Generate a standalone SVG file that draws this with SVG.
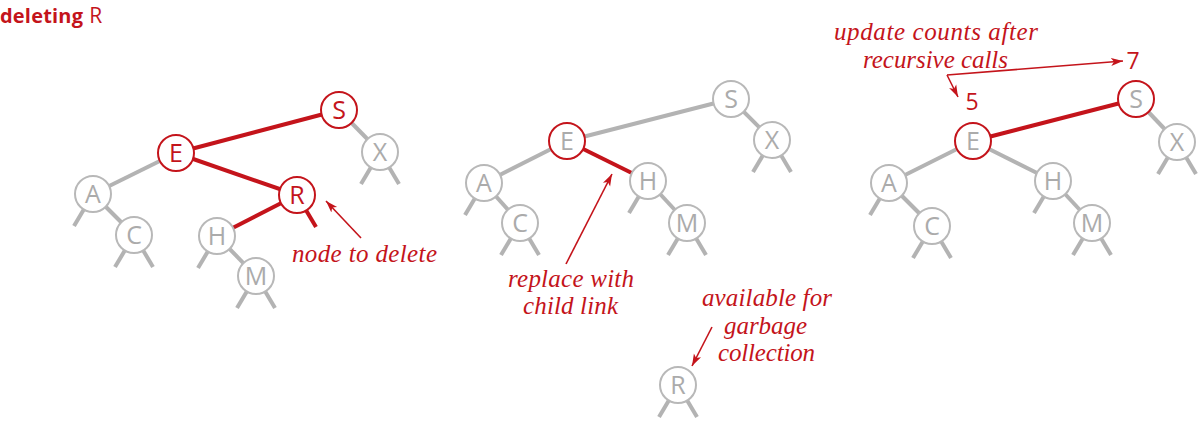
<svg xmlns="http://www.w3.org/2000/svg" width="1200" height="423" viewBox="0 0 1200 423">
<style>
.e{stroke:#b3b3b3;stroke-width:4;fill:none}
.er{stroke:#c4141b;stroke-width:4;fill:none}
.n circle{fill:#fff;stroke:#b8b8b8;stroke-width:2}
.n text{font-family:"Open Sans","Liberation Sans",sans-serif;font-size:25px;fill:#ababab;text-anchor:middle}
.n.r circle{stroke:#c4141b}
.n.rt text{fill:#c4141b}
.lab{font-family:"Liberation Serif",serif;font-style:italic;font-size:25px;fill:#c4141b}
.num{font-family:"Open Sans","Liberation Sans",sans-serif;font-size:23px;fill:#c4141b;text-anchor:middle}
.ar{stroke:#c4141b;stroke-width:1.6;fill:none}
</style>
<defs>
<marker id="ah" markerUnits="userSpaceOnUse" markerWidth="14" markerHeight="10" refX="12" refY="5" orient="auto">
<path d="M0,1 L12,5 L0,9 L3,5 Z" fill="#c4141b"/>
</marker>
</defs>

<text x="0" y="23" font-family="'Open Sans','Liberation Sans',sans-serif" font-size="20" fill="#c4141b"><tspan font-weight="bold" textLength="83">deleting</tspan><tspan dx="6" font-size="21">R</tspan></text>

<g id="connectors">
<!-- tree 1 -->
<line class="er" x1="176" y1="153" x2="339" y2="110"/>
<line class="er" x1="176" y1="153" x2="297" y2="195"/>
<line class="er" x1="297" y1="195" x2="217" y2="236"/>
<line class="er" x1="297" y1="195" x2="316" y2="227"/>
<line class="e" x1="339" y1="110" x2="380" y2="152"/>
<line class="e" x1="176" y1="153" x2="93" y2="194"/>
<line class="e" x1="93" y1="194" x2="134" y2="235"/>
<line class="e" x1="217" y1="236" x2="256" y2="276"/>
<line class="e" x1="93" y1="194" x2="74" y2="226"/>
<line class="e" x1="134" y1="235" x2="115" y2="267"/>
<line class="e" x1="134" y1="235" x2="153" y2="267"/>
<line class="e" x1="217" y1="236" x2="198" y2="268"/>
<line class="e" x1="256" y1="276" x2="237" y2="308"/>
<line class="e" x1="256" y1="276" x2="275" y2="308"/>
<line class="e" x1="380" y1="152" x2="361" y2="184"/>
<line class="e" x1="380" y1="152" x2="399" y2="184"/>
<!-- tree 2 -->
<line class="e" x1="567" y1="141" x2="731" y2="99"/>
<line class="e" x1="731" y1="99" x2="772" y2="140"/>
<line class="e" x1="567" y1="141" x2="484" y2="183"/>
<line class="e" x1="484" y1="183" x2="520" y2="223"/>
<line class="er" x1="567" y1="141" x2="648" y2="181"/>
<line class="e" x1="648" y1="181" x2="687" y2="223"/>
<line class="e" x1="484" y1="183" x2="465" y2="215"/>
<line class="e" x1="520" y1="223" x2="501" y2="255"/>
<line class="e" x1="520" y1="223" x2="539" y2="255"/>
<line class="e" x1="648" y1="181" x2="629" y2="213"/>
<line class="e" x1="687" y1="223" x2="668" y2="255"/>
<line class="e" x1="687" y1="223" x2="706" y2="255"/>
<line class="e" x1="772" y1="140" x2="753" y2="172"/>
<line class="e" x1="772" y1="140" x2="791" y2="172"/>
<line class="e" x1="678" y1="385" x2="659" y2="417"/>
<line class="e" x1="678" y1="385" x2="697" y2="417"/>
<!-- tree 3 -->
<line class="er" x1="973" y1="141" x2="1136" y2="99"/>
<line class="e" x1="1136" y1="99" x2="1177" y2="142"/>
<line class="e" x1="973" y1="141" x2="889" y2="183"/>
<line class="e" x1="889" y1="183" x2="932" y2="226"/>
<line class="e" x1="973" y1="141" x2="1053" y2="181"/>
<line class="e" x1="1053" y1="181" x2="1092" y2="223"/>
<line class="e" x1="889" y1="183" x2="870" y2="215"/>
<line class="e" x1="932" y1="226" x2="913" y2="258"/>
<line class="e" x1="932" y1="226" x2="951" y2="258"/>
<line class="e" x1="1053" y1="181" x2="1034" y2="213"/>
<line class="e" x1="1092" y1="223" x2="1073" y2="255"/>
<line class="e" x1="1092" y1="223" x2="1111" y2="255"/>
<line class="e" x1="1177" y1="142" x2="1158" y2="174"/>
<line class="e" x1="1177" y1="142" x2="1196" y2="174"/>
<!-- annotation arrows -->
<line class="ar" x1="361" y1="238" x2="326" y2="201" marker-end="url(#ah)"/>
<line class="ar" x1="566" y1="264" x2="612" y2="174" marker-end="url(#ah)"/>
<line class="ar" x1="712" y1="327" x2="692" y2="366" marker-end="url(#ah)"/>
<line class="ar" x1="947" y1="75" x2="1123" y2="61" marker-end="url(#ah)"/>
<line class="ar" x1="947" y1="75" x2="958" y2="97" marker-end="url(#ah)"/>
</g>

<!-- tree 1 nodes -->
<g id="t1-S" class="n r rt"><circle cx="339" cy="110" r="18"/><text x="339" y="119">S</text></g>
<g id="t1-E" class="n r rt"><circle cx="176" cy="153" r="18"/><text x="176" y="162">E</text></g>
<g id="t1-R" class="n r rt"><circle cx="297" cy="195" r="18"/><text x="297" y="204">R</text></g>
<g id="t1-X" class="n"><circle cx="380" cy="152" r="18"/><text x="380" y="161">X</text></g>
<g id="t1-A" class="n"><circle cx="93" cy="194" r="18"/><text x="93" y="203">A</text></g>
<g id="t1-C" class="n"><circle cx="134" cy="235" r="18"/><text x="134" y="244">C</text></g>
<g id="t1-H" class="n"><circle cx="217" cy="236" r="18"/><text x="217" y="245">H</text></g>
<g id="t1-M" class="n"><circle cx="256" cy="276" r="18"/><text x="256" y="285">M</text></g>

<!-- tree 2 nodes -->
<g id="t2-S" class="n"><circle cx="731" cy="99" r="18"/><text x="731" y="108">S</text></g>
<g id="t2-E" class="n r"><circle cx="567" cy="141" r="18"/><text x="567" y="150">E</text></g>
<g id="t2-X" class="n"><circle cx="772" cy="140" r="18"/><text x="772" y="149">X</text></g>
<g id="t2-A" class="n"><circle cx="484" cy="183" r="18"/><text x="484" y="192">A</text></g>
<g id="t2-C" class="n"><circle cx="520" cy="223" r="18"/><text x="520" y="232">C</text></g>
<g id="t2-H" class="n"><circle cx="648" cy="181" r="18"/><text x="648" y="190">H</text></g>
<g id="t2-M" class="n"><circle cx="687" cy="223" r="18"/><text x="687" y="232">M</text></g>
<g id="t2-R" class="n"><circle cx="678" cy="385" r="18"/><text x="678" y="394">R</text></g>

<!-- tree 3 nodes -->
<g id="t3-S" class="n r"><circle cx="1136" cy="99" r="18"/><text x="1136" y="108">S</text></g>
<g id="t3-E" class="n r"><circle cx="973" cy="141" r="18"/><text x="973" y="150">E</text></g>
<g id="t3-X" class="n"><circle cx="1177" cy="142" r="18"/><text x="1177" y="151">X</text></g>
<g id="t3-A" class="n"><circle cx="889" cy="183" r="18"/><text x="889" y="192">A</text></g>
<g id="t3-C" class="n"><circle cx="932" cy="226" r="18"/><text x="932" y="235">C</text></g>
<g id="t3-H" class="n"><circle cx="1053" cy="181" r="18"/><text x="1053" y="190">H</text></g>
<g id="t3-M" class="n"><circle cx="1092" cy="223" r="18"/><text x="1092" y="232">M</text></g>

<!-- labels -->
<text class="lab" x="292" y="262" textLength="145" lengthAdjust="spacing">node to delete</text>
<text class="lab" x="508" y="287" textLength="126" lengthAdjust="spacing">replace with</text>
<text class="lab" x="523" y="314" textLength="95" lengthAdjust="spacing">child link</text>
<text class="lab" x="702" y="306" textLength="130" lengthAdjust="spacing">available for</text>
<text class="lab" x="724" y="334" textLength="83" lengthAdjust="spacing">garbage</text>
<text class="lab" x="718" y="361" textLength="97" lengthAdjust="spacing">collection</text>
<text class="lab" x="834" y="40" textLength="204" lengthAdjust="spacing">update counts after</text>
<text class="lab" x="863" y="68" textLength="145" lengthAdjust="spacing">recursive calls</text>
<text class="num" x="1133" y="69">7</text>
<text class="num" x="972" y="110">5</text>
</svg>
